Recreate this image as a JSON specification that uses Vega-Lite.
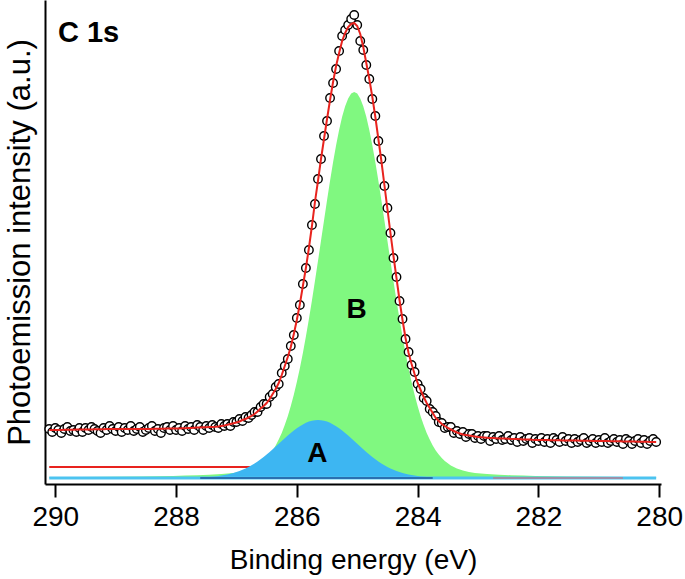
{
"$schema":"https://vega.github.io/schema/vega-lite/v6.json",
"width":616,"height":484,
"autosize":{"type":"none"},
"padding":{"left":45,"top":0,"right":24,"bottom":95},
"background":"white",
"config":{"view":{"stroke":null},"font":"Liberation Sans",
"axis":{"labelFont":"Liberation Sans","titleFont":"Liberation Sans","grid":false},
"axisX":{"domainColor":"black","domainWidth":2,"tickColor":"black","tickWidth":2,"tickSize":13,"labelFontSize":28,"labelColor":"black","labelPadding":6,"labelFlush":false,"labelOverlap":false,"titleFontSize":28,"titleFontWeight":"normal","titleColor":"black","titlePadding":15},
"axisY":{"domainColor":"black","domainWidth":2,"ticks":false,"labels":false,"titleFontSize":31,"titleFontWeight":"normal","titleColor":"black","titlePadding":9}},
"datasets":{
"bg":[{"e":290.1,"y":17},{"e":286.8,"y":17},{"e":286.6,"y":16.5},{"e":286.3,"y":15.5},{"e":286.0,"y":14},{"e":285.5,"y":11},{"e":285.0,"y":8.5},{"e":284.5,"y":7},{"e":284.0,"y":6.3},{"e":283.6,"y":6}],
"compB":[{"e":290.1,"y":6.8},{"e":289.6,"y":7.0},{"e":289.05,"y":7.2},{"e":288.55,"y":7.6},{"e":288.05,"y":8.1},{"e":287.85,"y":8.4},{"e":287.65,"y":8.8},{"e":287.45,"y":9.3},{"e":287.25,"y":10.0},{"e":287.05,"y":11.1},{"e":286.95,"y":12.1},{"e":286.85,"y":13.4},{"e":286.75,"y":15.5},{"e":286.65,"y":18.5},{"e":286.55,"y":23.0},{"e":286.5,"y":25.9},{"e":286.45,"y":29.4},{"e":286.4,"y":33.6},{"e":286.35,"y":38.6},{"e":286.3,"y":44.4},{"e":286.25,"y":51.1},{"e":286.2,"y":58.9},{"e":286.15,"y":67.8},{"e":286.1,"y":77.9},{"e":286.05,"y":89.2},{"e":286.0,"y":101.9},{"e":285.95,"y":115.8},{"e":285.9,"y":131.0},{"e":285.85,"y":147.4},{"e":285.8,"y":165.0},{"e":285.75,"y":183.6},{"e":285.7,"y":202.9},{"e":285.65,"y":222.9},{"e":285.6,"y":243.2},{"e":285.55,"y":263.6},{"e":285.5,"y":283.7},{"e":285.45,"y":303.2},{"e":285.4,"y":321.7},{"e":285.35,"y":338.7},{"e":285.3,"y":354.0},{"e":285.25,"y":367.2},{"e":285.2,"y":377.8},{"e":285.15,"y":385.6},{"e":285.1,"y":390.4},{"e":285.05,"y":392.0},{"e":285.0,"y":390.4},{"e":284.95,"y":385.6},{"e":284.9,"y":377.8},{"e":284.85,"y":367.2},{"e":284.8,"y":354.0},{"e":284.75,"y":338.7},{"e":284.7,"y":321.7},{"e":284.65,"y":303.2},{"e":284.6,"y":283.7},{"e":284.55,"y":263.6},{"e":284.5,"y":243.2},{"e":284.45,"y":222.9},{"e":284.4,"y":202.9},{"e":284.35,"y":183.6},{"e":284.3,"y":165.0},{"e":284.25,"y":147.4},{"e":284.2,"y":131.0},{"e":284.15,"y":115.8},{"e":284.1,"y":101.9},{"e":284.05,"y":89.2},{"e":284.0,"y":77.9},{"e":283.95,"y":67.8},{"e":283.9,"y":58.9},{"e":283.85,"y":51.1},{"e":283.8,"y":44.4},{"e":283.75,"y":38.6},{"e":283.7,"y":33.6},{"e":283.65,"y":29.4},{"e":283.6,"y":25.9},{"e":283.55,"y":23.0},{"e":283.45,"y":18.5},{"e":283.35,"y":15.5},{"e":283.25,"y":13.4},{"e":283.15,"y":12.1},{"e":283.05,"y":11.1},{"e":282.85,"y":10.0},{"e":282.65,"y":9.3},{"e":282.45,"y":8.8},{"e":282.25,"y":8.4},{"e":282.05,"y":8.1},{"e":281.55,"y":7.6},{"e":281.05,"y":7.2},{"e":280.55,"y":7.0},{"e":280.05,"y":6.8}],
"compA":[{"e":287.65,"y":6.4},{"e":287.55,"y":6.6},{"e":287.45,"y":7.0},{"e":287.35,"y":7.6},{"e":287.25,"y":8.4},{"e":287.15,"y":9.5},{"e":287.1,"y":10.2},{"e":287.05,"y":11.0},{"e":287.0,"y":12.0},{"e":286.95,"y":13.0},{"e":286.9,"y":14.2},{"e":286.85,"y":15.6},{"e":286.8,"y":17.1},{"e":286.75,"y":18.8},{"e":286.7,"y":20.6},{"e":286.65,"y":22.6},{"e":286.6,"y":24.8},{"e":286.55,"y":27.1},{"e":286.5,"y":29.5},{"e":286.45,"y":32.1},{"e":286.4,"y":34.7},{"e":286.35,"y":37.5},{"e":286.3,"y":40.2},{"e":286.25,"y":43.0},{"e":286.2,"y":45.8},{"e":286.15,"y":48.4},{"e":286.1,"y":51.0},{"e":286.05,"y":53.5},{"e":286.0,"y":55.8},{"e":285.95,"y":57.8},{"e":285.9,"y":59.6},{"e":285.85,"y":61.2},{"e":285.8,"y":62.4},{"e":285.75,"y":63.3},{"e":285.7,"y":63.8},{"e":285.65,"y":64.0},{"e":285.6,"y":63.8},{"e":285.55,"y":63.3},{"e":285.5,"y":62.4},{"e":285.45,"y":61.2},{"e":285.4,"y":59.6},{"e":285.35,"y":57.8},{"e":285.3,"y":55.8},{"e":285.25,"y":53.5},{"e":285.2,"y":51.0},{"e":285.15,"y":48.4},{"e":285.1,"y":45.8},{"e":285.05,"y":43.0},{"e":285.0,"y":40.2},{"e":284.95,"y":37.5},{"e":284.9,"y":34.7},{"e":284.85,"y":32.1},{"e":284.8,"y":29.5},{"e":284.75,"y":27.1},{"e":284.7,"y":24.8},{"e":284.65,"y":22.6},{"e":284.6,"y":20.6},{"e":284.55,"y":18.8},{"e":284.5,"y":17.1},{"e":284.45,"y":15.6},{"e":284.4,"y":14.2},{"e":284.35,"y":13.0},{"e":284.3,"y":12.0},{"e":284.25,"y":11.0},{"e":284.2,"y":10.2},{"e":284.15,"y":9.5},{"e":284.05,"y":8.4},{"e":283.95,"y":7.6},{"e":283.85,"y":7.0},{"e":283.75,"y":6.6},{"e":283.65,"y":6.4}],
"base":[{"e":290.1,"y":6},{"e":280.05,"y":6}],
"segs":[{"e":287.6,"e2":283.75,"y":6,"k":"a"},{"e":282.75,"e2":280.6,"y":6,"k":"b"}],
"spec":[{"e":290.10,"c":55,"f":54.0},{"e":290.05,"c":52,"f":54.0},{"e":290.00,"c":56,"f":54.0},{"e":289.95,"c":54,"f":54.1},{"e":289.90,"c":51,"f":54.1},{"e":289.85,"c":55,"f":54.2},{"e":289.80,"c":57,"f":54.2},{"e":289.75,"c":53,"f":54.3},{"e":289.70,"c":54,"f":54.3},{"e":289.65,"c":52,"f":54.4},{"e":289.60,"c":56,"f":54.4},{"e":289.55,"c":52,"f":54.5},{"e":289.50,"c":56,"f":54.5},{"e":289.45,"c":54,"f":54.6},{"e":289.40,"c":57,"f":54.6},{"e":289.35,"c":55,"f":54.7},{"e":289.30,"c":53,"f":54.7},{"e":289.25,"c":51,"f":54.8},{"e":289.20,"c":56,"f":54.8},{"e":289.15,"c":54,"f":54.9},{"e":289.10,"c":58,"f":54.9},{"e":289.05,"c":55,"f":55.0},{"e":289.00,"c":53,"f":55.0},{"e":288.95,"c":57,"f":55.0},{"e":288.90,"c":52,"f":55.0},{"e":288.85,"c":56,"f":55.0},{"e":288.80,"c":54,"f":55.0},{"e":288.75,"c":58,"f":55.0},{"e":288.70,"c":53,"f":55.0},{"e":288.65,"c":55,"f":55.0},{"e":288.60,"c":57,"f":55.0},{"e":288.55,"c":52,"f":55.0},{"e":288.50,"c":54,"f":55.0},{"e":288.45,"c":56,"f":55.1},{"e":288.40,"c":58,"f":55.1},{"e":288.35,"c":53,"f":55.2},{"e":288.30,"c":55,"f":55.2},{"e":288.25,"c":51,"f":55.3},{"e":288.20,"c":56,"f":55.3},{"e":288.15,"c":57,"f":55.4},{"e":288.10,"c":54,"f":55.4},{"e":288.05,"c":58,"f":55.5},{"e":288.00,"c":54,"f":55.5},{"e":287.95,"c":56,"f":55.6},{"e":287.90,"c":53,"f":55.7},{"e":287.85,"c":58,"f":55.8},{"e":287.80,"c":55,"f":56.0},{"e":287.75,"c":57,"f":56.1},{"e":287.70,"c":54,"f":56.3},{"e":287.65,"c":59,"f":56.4},{"e":287.60,"c":57,"f":56.5},{"e":287.55,"c":54,"f":56.7},{"e":287.50,"c":58,"f":56.8},{"e":287.45,"c":56,"f":56.9},{"e":287.40,"c":59,"f":57.0},{"e":287.35,"c":57,"f":57.2},{"e":287.30,"c":56,"f":57.5},{"e":287.25,"c":60,"f":58.0},{"e":287.20,"c":58,"f":58.5},{"e":287.15,"c":60,"f":59.2},{"e":287.10,"c":58,"f":60.0},{"e":287.05,"c":62,"f":60.7},{"e":287.00,"c":62,"f":61.5},{"e":286.95,"c":65,"f":62.5},{"e":286.90,"c":63,"f":64.0},{"e":286.85,"c":67,"f":65.0},{"e":286.80,"c":66,"f":66.5},{"e":286.75,"c":69,"f":68.0},{"e":286.70,"c":72,"f":70.0},{"e":286.65,"c":72,"f":72.5},{"e":286.60,"c":77,"f":75.5},{"e":286.55,"c":80,"f":78.0},{"e":286.50,"c":80,"f":81.0},{"e":286.45,"c":87,"f":85.0},{"e":286.40,"c":90,"f":90.0},{"e":286.35,"c":97,"f":95.0},{"e":286.30,"c":100,"f":101.0},{"e":286.25,"c":111,"f":109.0},{"e":286.20,"c":118,"f":118.0},{"e":286.15,"c":125,"f":127.0},{"e":286.10,"c":138,"f":137.0},{"e":286.05,"c":149,"f":150.0},{"e":286.00,"c":166,"f":164.0},{"e":285.95,"c":179,"f":180.0},{"e":285.90,"c":200,"f":198.0},{"e":285.85,"c":216,"f":216.0},{"e":285.80,"c":234,"f":236.0},{"e":285.75,"c":259,"f":258.0},{"e":285.70,"c":280,"f":282.0},{"e":285.65,"c":305,"f":303.0},{"e":285.60,"c":325,"f":325.0},{"e":285.55,"c":348,"f":345.0},{"e":285.50,"c":363,"f":365.0},{"e":285.45,"c":386,"f":384.0},{"e":285.40,"c":401,"f":402.0},{"e":285.35,"c":415,"f":418.0},{"e":285.30,"c":433,"f":431.0},{"e":285.25,"c":448,"f":443.0},{"e":285.20,"c":454,"f":451.0},{"e":285.15,"c":459,"f":457.0},{"e":285.10,"c":465,"f":460.0},{"e":285.05,"c":469,"f":461.0},{"e":285.00,"c":459,"f":458.0},{"e":284.95,"c":443,"f":450.0},{"e":284.90,"c":434,"f":437.0},{"e":284.85,"c":419,"f":421.0},{"e":284.80,"c":405,"f":405.0},{"e":284.75,"c":385,"f":387.0},{"e":284.70,"c":368,"f":367.0},{"e":284.65,"c":343,"f":345.0},{"e":284.60,"c":325,"f":323.0},{"e":284.55,"c":298,"f":299.0},{"e":284.50,"c":276,"f":275.0},{"e":284.45,"c":251,"f":251.0},{"e":284.40,"c":226,"f":228.0},{"e":284.35,"c":207,"f":206.0},{"e":284.30,"c":183,"f":184.0},{"e":284.25,"c":165,"f":164.0},{"e":284.20,"c":145,"f":146.0},{"e":284.15,"c":132,"f":131.0},{"e":284.10,"c":119,"f":120.0},{"e":284.05,"c":112,"f":110.0},{"e":284.00,"c":100,"f":101.0},{"e":283.95,"c":95,"f":94.0},{"e":283.90,"c":86,"f":87.0},{"e":283.85,"c":83,"f":81.0},{"e":283.80,"c":75,"f":76.0},{"e":283.75,"c":72,"f":71.0},{"e":283.70,"c":68,"f":66.0},{"e":283.65,"c":62,"f":63.0},{"e":283.60,"c":61,"f":60.0},{"e":283.55,"c":56,"f":58.0},{"e":283.50,"c":57,"f":56.0},{"e":283.45,"c":57,"f":54.5},{"e":283.40,"c":51,"f":53.0},{"e":283.35,"c":53,"f":51.5},{"e":283.30,"c":50,"f":50.5},{"e":283.25,"c":52,"f":49.5},{"e":283.20,"c":47,"f":49.0},{"e":283.15,"c":50,"f":48.5},{"e":283.10,"c":50,"f":48.0},{"e":283.05,"c":46,"f":47.5},{"e":283.00,"c":48,"f":47.0},{"e":282.95,"c":45,"f":46.8},{"e":282.90,"c":48,"f":46.5},{"e":282.85,"c":48,"f":46.2},{"e":282.80,"c":43,"f":46.0},{"e":282.75,"c":47,"f":45.9},{"e":282.70,"c":45,"f":45.8},{"e":282.65,"c":48,"f":45.6},{"e":282.60,"c":44,"f":45.5},{"e":282.55,"c":45,"f":45.4},{"e":282.50,"c":48,"f":45.3},{"e":282.45,"c":44,"f":45.1},{"e":282.40,"c":46,"f":45.0},{"e":282.35,"c":42,"f":44.9},{"e":282.30,"c":47,"f":44.8},{"e":282.25,"c":43,"f":44.6},{"e":282.20,"c":45,"f":44.5},{"e":282.15,"c":46,"f":44.4},{"e":282.10,"c":41,"f":44.2},{"e":282.05,"c":45,"f":44.1},{"e":282.00,"c":43,"f":44.0},{"e":281.95,"c":46,"f":44.0},{"e":281.90,"c":42,"f":43.9},{"e":281.85,"c":45,"f":43.9},{"e":281.80,"c":41,"f":43.8},{"e":281.75,"c":46,"f":43.8},{"e":281.70,"c":44,"f":43.7},{"e":281.65,"c":42,"f":43.7},{"e":281.60,"c":47,"f":43.6},{"e":281.55,"c":43,"f":43.6},{"e":281.50,"c":45,"f":43.5},{"e":281.45,"c":41,"f":43.5},{"e":281.40,"c":45,"f":43.4},{"e":281.35,"c":42,"f":43.4},{"e":281.30,"c":44,"f":43.3},{"e":281.25,"c":46,"f":43.3},{"e":281.20,"c":41,"f":43.2},{"e":281.15,"c":43,"f":43.2},{"e":281.10,"c":45,"f":43.1},{"e":281.05,"c":41,"f":43.1},{"e":281.00,"c":44,"f":43.0},{"e":280.95,"c":42,"f":43.0},{"e":280.90,"c":46,"f":42.9},{"e":280.85,"c":41,"f":42.9},{"e":280.80,"c":43,"f":42.8},{"e":280.75,"c":45,"f":42.8},{"e":280.70,"c":42,"f":42.7},{"e":280.65,"c":44,"f":42.7},{"e":280.60,"c":40,"f":42.6},{"e":280.55,"c":45,"f":42.6},{"e":280.50,"c":43,"f":42.5},{"e":280.45,"c":40,"f":42.4},{"e":280.40,"c":43,"f":42.4},{"e":280.35,"c":45,"f":42.3},{"e":280.30,"c":41,"f":42.3},{"e":280.25,"c":44,"f":42.2},{"e":280.20,"c":40,"f":42.2},{"e":280.15,"c":43,"f":42.1},{"e":280.10,"c":45,"f":42.1},{"e":280.05,"c":42,"f":42.0}],
"lab1":[{"e":289.955,"y":442,"t":"C 1s"}],
"lab2":[{"e":285.01,"y":166,"t":"B"},{"e":285.66,"y":22,"t":"A"}]
},
"layer":[
{"data":{"name":"bg"},"mark":{"type":"line","color":"#E8231E","strokeWidth":2},
 "encoding":{"x":{"field":"e","type":"quantitative","title":"Binding energy (eV)","scale":{"domain":[279.97,290.17],"reverse":true,"nice":false,"zero":false},"axis":{"values":[280,282,284,286,288,290]}},
 "y":{"field":"y","type":"quantitative","title":"Photoemission intensity (a.u.)","scale":{"domain":[0,484],"nice":false,"zero":false}}}},
{"data":{"name":"compB"},"mark":{"type":"area","color":"#80F880","opacity":1},
 "encoding":{"x":{"field":"e","type":"quantitative","title":"Binding energy (eV)","scale":{"domain":[279.97,290.17],"reverse":true,"nice":false,"zero":false},"axis":{"values":[280,282,284,286,288,290]}},
 "y":{"field":"y","type":"quantitative","title":"Photoemission intensity (a.u.)","scale":{"domain":[0,484],"nice":false,"zero":false}},"y2":{"datum":6}}},
{"data":{"name":"compA"},"mark":{"type":"area","color":"#3DB6F2","opacity":1},
 "encoding":{"x":{"field":"e","type":"quantitative","title":"Binding energy (eV)","scale":{"domain":[279.97,290.17],"reverse":true,"nice":false,"zero":false},"axis":{"values":[280,282,284,286,288,290]}},
 "y":{"field":"y","type":"quantitative","title":"Photoemission intensity (a.u.)","scale":{"domain":[0,484],"nice":false,"zero":false}},"y2":{"datum":6}}},
{"data":{"name":"base"},"mark":{"type":"line","color":"#4CC3F0","strokeWidth":3},
 "encoding":{"x":{"field":"e","type":"quantitative","title":"Binding energy (eV)","scale":{"domain":[279.97,290.17],"reverse":true,"nice":false,"zero":false},"axis":{"values":[280,282,284,286,288,290]}},
 "y":{"field":"y","type":"quantitative","title":"Photoemission intensity (a.u.)","scale":{"domain":[0,484],"nice":false,"zero":false}}}},
{"data":{"name":"segs"},"mark":{"type":"rule","strokeWidth":2},
 "encoding":{"x":{"field":"e","type":"quantitative","title":"Binding energy (eV)","scale":{"domain":[279.97,290.17],"reverse":true,"nice":false,"zero":false},"axis":{"values":[280,282,284,286,288,290]}},"x2":{"field":"e2"},
 "y":{"field":"y","type":"quantitative","title":"Photoemission intensity (a.u.)","scale":{"domain":[0,484],"nice":false,"zero":false}},
 "color":{"field":"k","type":"nominal","scale":{"domain":["a","b"],"range":["#2A6FB0","#9C8FA8"]},"legend":null}}},
{"data":{"name":"spec"},"mark":{"type":"point","shape":"circle","filled":true,"fill":"white","stroke":"black","strokeWidth":1.4,"size":72,"opacity":1},
 "encoding":{"x":{"field":"e","type":"quantitative","title":"Binding energy (eV)","scale":{"domain":[279.97,290.17],"reverse":true,"nice":false,"zero":false},"axis":{"values":[280,282,284,286,288,290]}},
 "y":{"field":"c","type":"quantitative","title":"Photoemission intensity (a.u.)","scale":{"domain":[0,484],"nice":false,"zero":false}}}},
{"data":{"name":"spec"},"mark":{"type":"line","color":"#E8231E","strokeWidth":2},
 "encoding":{"x":{"field":"e","type":"quantitative","title":"Binding energy (eV)","scale":{"domain":[279.97,290.17],"reverse":true,"nice":false,"zero":false},"axis":{"values":[280,282,284,286,288,290]}},
 "y":{"field":"f","type":"quantitative","title":"Photoemission intensity (a.u.)","scale":{"domain":[0,484],"nice":false,"zero":false}}}},
{"data":{"name":"lab1"},"mark":{"type":"text","font":"Liberation Sans","fontWeight":"bold","fontSize":29,"align":"left","baseline":"alphabetic","color":"black"},
 "encoding":{"x":{"field":"e","type":"quantitative","title":"Binding energy (eV)","scale":{"domain":[279.97,290.17],"reverse":true,"nice":false,"zero":false},"axis":{"values":[280,282,284,286,288,290]}},
 "y":{"field":"y","type":"quantitative","title":"Photoemission intensity (a.u.)","scale":{"domain":[0,484],"nice":false,"zero":false}},"text":{"field":"t"}}},
{"data":{"name":"lab2"},"mark":{"type":"text","font":"Liberation Sans","fontWeight":"bold","fontSize":28,"align":"center","baseline":"alphabetic","color":"black"},
 "encoding":{"x":{"field":"e","type":"quantitative","title":"Binding energy (eV)","scale":{"domain":[279.97,290.17],"reverse":true,"nice":false,"zero":false},"axis":{"values":[280,282,284,286,288,290]}},
 "y":{"field":"y","type":"quantitative","title":"Photoemission intensity (a.u.)","scale":{"domain":[0,484],"nice":false,"zero":false}},"text":{"field":"t"}}}
]
}
